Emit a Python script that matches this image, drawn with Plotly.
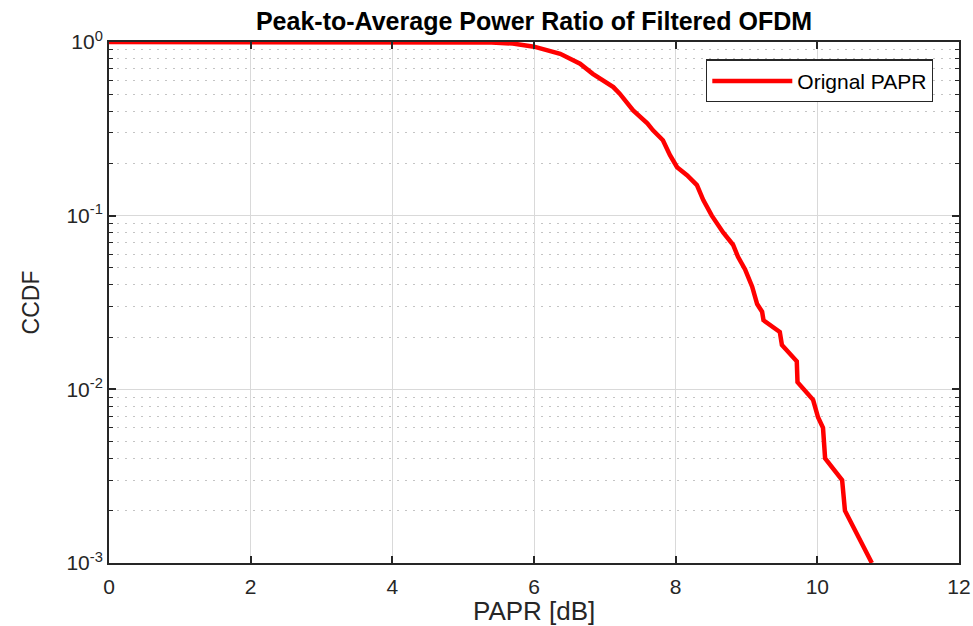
import plotly.graph_objects as go

# PAPR (dB) and CCDF values
papr_db = [0, 4.5, 5.0, 5.4, 5.7, 6.0, 6.37, 6.65, 6.83, 7.03, 7.12, 7.21, 7.40, 7.60,
           7.68, 7.82, 7.92, 8.02, 8.16, 8.30, 8.39, 8.51, 8.67, 8.81, 8.88, 8.98,
           9.08, 9.15, 9.22, 9.24, 9.33, 9.47, 9.50, 9.66, 9.71, 9.72, 9.94, 10.01,
           10.08, 10.11, 10.35, 10.39, 10.77]
ccdf = [1.0, 1.0, 0.999, 0.993, 0.98, 0.94, 0.855, 0.75, 0.656, 0.575, 0.55, 0.504,
        0.404, 0.34, 0.31, 0.272, 0.223, 0.19, 0.171, 0.15, 0.123, 0.10, 0.080, 0.068,
        0.058, 0.049, 0.039, 0.031, 0.028, 0.025, 0.0235, 0.0214, 0.018, 0.0153,
        0.0145, 0.011, 0.0087, 0.0069, 0.006, 0.004, 0.003, 0.002, 0.001]

x_ticks = [0, 2, 4, 6, 8, 10, 12]
y_tickvals = [1, 0.1, 0.01, 0.001]
y_ticktext = ["10<sup>0</sup>", "10<sup>-1</sup>", "10<sup>-2</sup>", "10<sup>-3</sup>"]

font_family = "Liberation Sans, Arial, sans-serif"
axis_col = "#262626"

fig = go.Figure()
fig.add_trace(go.Scatter(
    x=papr_db, y=ccdf, mode="lines", name="Orignal PAPR",
    line=dict(color="#ff0000", width=4.5),
))

fig.update_layout(
    width=973, height=626,
    margin=dict(l=109, r=14, t=41.5, b=62.5, autoexpand=False),
    paper_bgcolor="white", plot_bgcolor="white",
    font=dict(family=font_family, color=axis_col),
    title=dict(text="<b>Peak-to-Average Power Ratio of Filtered OFDM</b>",
               x=(109 + 959) / 2 / 973, xanchor="center", y=1 - 21 / 626, yanchor="middle",
               font=dict(size=25, color="black", family=font_family)),
    showlegend=True,
    legend=dict(x=(933 - 109) / 850, y=1 - (59 - 41.5) / 522, xanchor="right", yanchor="top",
                bgcolor="white", bordercolor="#262626", borderwidth=1.3,
                font=dict(size=21, color="black"), itemwidth=80,
                tracegroupgap=0),
    annotations=[dict(text="PAPR [dB]", xref="paper", yref="paper", x=0.5,
                      y=-(612 - 563.5) / 522, xanchor="center", yanchor="middle",
                      showarrow=False, font=dict(size=26, color=axis_col))],
)

fig.update_xaxes(
    range=[0, 12], tickvals=x_ticks, ticks="inside", ticklen=7, tickwidth=1.5,
    tickcolor=axis_col, showline=True, linecolor=axis_col, linewidth=2, mirror="ticks",
    showgrid=True, gridcolor="#d9d9d9", gridwidth=1.3, zeroline=False,
    tickfont=dict(size=21, color=axis_col), ticklabelstandoff=4,
    ticklabeloverflow="allow", automargin=False,
)

fig.update_yaxes(
    type="log", range=[-3, 0], tickvals=y_tickvals, ticktext=y_ticktext,
    ticks="inside", ticklen=7, tickwidth=1.5, tickcolor=axis_col,
    showline=True, linecolor=axis_col, linewidth=2, mirror="ticks",
    showgrid=True, gridcolor="#d9d9d9", gridwidth=1.3, zeroline=False,
    tickfont=dict(size=21, color=axis_col), automargin=True,
    title=dict(text="CCDF", font=dict(size=23, color=axis_col), standoff=20),
    minor=dict(ticks="inside", ticklen=4, tickwidth=1.2, tickcolor=axis_col,
               showgrid=True, gridcolor="#c4c4c4", griddash="2px,6px", gridwidth=1.3,
               dtick="D1"),
)

# Remove the default 8px page margin so the 973x626 figure fills the window exactly.
fig.write_html("out.html", config={"displayModeBar": False},
               post_script="document.body.style.margin='0';document.body.style.overflow='hidden';")
